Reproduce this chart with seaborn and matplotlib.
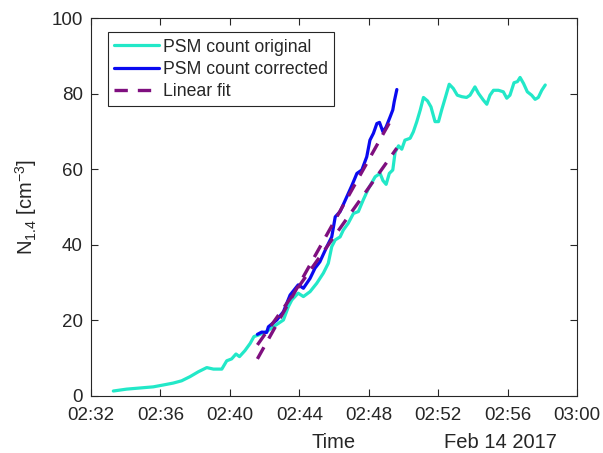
import pandas as pd
import seaborn as sns
import matplotlib.pyplot as plt
import matplotlib.dates as mdates

# PSM count, original
orig_time = ['02:33:17', '02:34:03', '02:34:49', '02:35:35', '02:36:10', '02:36:44',
             '02:37:13', '02:37:42', '02:38:11', '02:38:40', '02:39:03', '02:39:32',
             '02:39:49', '02:40:06', '02:40:21', '02:40:33', '02:40:52', '02:41:10',
             '02:41:23', '02:41:38', '02:42:06', '02:42:30', '02:43:05', '02:43:22',
             '02:43:34', '02:43:56', '02:44:14', '02:44:37', '02:45:00', '02:45:23',
             '02:45:40', '02:45:52', '02:46:04', '02:46:21', '02:46:32', '02:46:49',
             '02:47:07', '02:47:24', '02:47:41', '02:47:59', '02:48:22', '02:48:39',
             '02:48:49', '02:49:00', '02:49:11', '02:49:23', '02:49:31', '02:49:43',
             '02:49:54', '02:50:05', '02:50:23', '02:50:34', '02:50:46', '02:50:58',
             '02:51:09', '02:51:23', '02:51:35', '02:51:49', '02:52:01', '02:52:12',
             '02:52:24', '02:52:38', '02:52:52', '02:53:06', '02:53:22', '02:53:38',
             '02:53:50', '02:54:07', '02:54:19', '02:54:36', '02:54:48', '02:54:59',
             '02:55:11', '02:55:28', '02:55:45', '02:55:57', '02:56:08', '02:56:22',
             '02:56:34', '02:56:43', '02:56:55', '02:57:08', '02:57:23', '02:57:35',
             '02:57:46', '02:57:58', '02:58:10']
orig_val = [1.3, 1.8, 2.1, 2.4, 2.9, 3.4,
            4.0, 5.1, 6.4, 7.5, 7.1, 7.1,
            9.3, 9.8, 11.1, 10.4, 12.0, 13.9,
            15.7, 16.1, 17.0, 18.3, 20.1, 23.6,
            25.4, 27.2, 26.3, 27.6, 29.8, 32.5,
            35.1, 39.5, 41.3, 42.1, 43.9, 45.7,
            48.3, 48.8, 51.9, 54.9, 58.0, 58.9,
            57.0, 56.0, 58.9, 59.8, 64.5, 66.2,
            65.3, 67.7, 68.2, 69.9, 72.6, 75.7,
            79.0, 78.1, 76.5, 72.6, 72.6, 75.7,
            78.8, 82.5, 81.4, 79.6, 79.2, 79.0,
            79.6, 81.8, 80.1, 78.3, 77.2, 79.6,
            80.9, 80.9, 80.5, 78.8, 79.6, 82.9,
            83.2, 84.3, 82.7, 80.5, 79.6, 78.5,
            79.0, 80.9, 82.3]

# PSM count, corrected
corr_time = ['02:41:35', '02:41:50', '02:42:07', '02:42:13', '02:42:42', '02:43:05',
             '02:43:28', '02:43:56', '02:44:14', '02:44:37', '02:44:54', '02:45:11',
             '02:45:35', '02:45:52', '02:46:04', '02:46:21', '02:46:44', '02:47:01',
             '02:47:19', '02:47:36', '02:47:53', '02:48:04', '02:48:16', '02:48:28',
             '02:48:37', '02:48:49', '02:49:00', '02:49:14', '02:49:23', '02:49:28',
             '02:49:37']
corr_val = [16.3, 16.9, 16.8, 18.3, 20.1, 22.3,
            26.7, 29.4, 28.5, 31.1, 33.8, 35.5,
            39.5, 42.1, 47.4, 48.8, 52.7, 55.6,
            58.9, 59.8, 63.3, 67.7, 69.5, 72.1,
            72.4, 69.9, 71.2, 73.9, 75.7, 77.9,
            81.1]

# linear fits (end points)
fit_corr_time = ['02:41:35', '02:49:23']
fit_corr_val = [9.8, 73.9]
fit_orig_time = ['02:41:35', '02:49:37']
fit_orig_val = [13.5, 65.6]

day = '2017-02-14 '
to_dt = lambda ts: pd.to_datetime([day + t for t in ts])

df_orig = pd.DataFrame({'Time': to_dt(orig_time), 'N': orig_val})
df_corr = pd.DataFrame({'Time': to_dt(corr_time), 'N': corr_val})
df_fc = pd.DataFrame({'Time': to_dt(fit_corr_time), 'N': fit_corr_val})
df_fo = pd.DataFrame({'Time': to_dt(fit_orig_time), 'N': fit_orig_val})

sns.set_style('ticks')
plt.rcParams['font.family'] = ['Liberation Sans', 'DejaVu Sans']
plt.rcParams['text.color'] = '#262626'
plt.rcParams['xtick.color'] = '#262626'
plt.rcParams['ytick.color'] = '#262626'
plt.rcParams['axes.edgecolor'] = '#262626'

fig = plt.figure(figsize=(6.03, 4.53), dpi=100)
ax = fig.add_axes([0.151, 0.126, 0.806, 0.834])

cyan = '#22E8C8'
blue = '#0A0AF0'
purple = '#7F0F7F'

sns.lineplot(x='Time', y='N', data=df_orig, color=cyan, lw=2.3, ax=ax, label='PSM count original')
sns.lineplot(x='Time', y='N', data=df_corr, color=blue, lw=2.3, ax=ax, label='PSM count corrected')
sns.lineplot(x='Time', y='N', data=df_fc, color=purple, lw=2.4, ax=ax, label='Linear fit',
             linestyle=(0, (4, 3)))
sns.lineplot(x='Time', y='N', data=df_fo, color=purple, lw=2.4, ax=ax, linestyle=(0, (4, 3)))

ax.set_xlim(pd.Timestamp(day + '02:32:00'), pd.Timestamp(day + '03:00:00'))
ax.set_ylim(0, 100)
ax.set_yticks([0, 20, 40, 60, 80, 100])
ax.xaxis.set_major_locator(mdates.MinuteLocator(byminute=range(0, 60, 4)))
ax.xaxis.set_major_formatter(mdates.DateFormatter('%H:%M'))
ax.tick_params(direction='in', length=5, width=0.8, top=True, right=True, labelsize=13.5)
ax.tick_params(axis='x', pad=8)
ax.tick_params(axis='y', pad=6)
for s in ax.spines.values():
    s.set_linewidth(0.8)

ax.set_xlabel('')
ax.set_ylabel(r'N$_{\mathregular{1.4}}$ [cm$^{\mathregular{-3}}$]', fontsize=14.5, labelpad=9)
ax.text(0.5, -0.1376, 'Time', transform=ax.transAxes, ha='center', va='baseline', fontsize=14.5)
ax.text(0.958, -0.1376, 'Feb 14 2017', transform=ax.transAxes, ha='right', va='baseline',
        fontsize=14.5)

leg = ax.legend(loc='upper left', bbox_to_anchor=(0.035, 0.962), fontsize=12.7, frameon=True,
                fancybox=False, edgecolor='#262626', framealpha=1, handlelength=2.55,
                handletextpad=0.2, borderpad=0.35, labelspacing=0.3, borderaxespad=0)
leg.get_frame().set_linewidth(0.8)

plt.savefig('out.png', dpi=100)
